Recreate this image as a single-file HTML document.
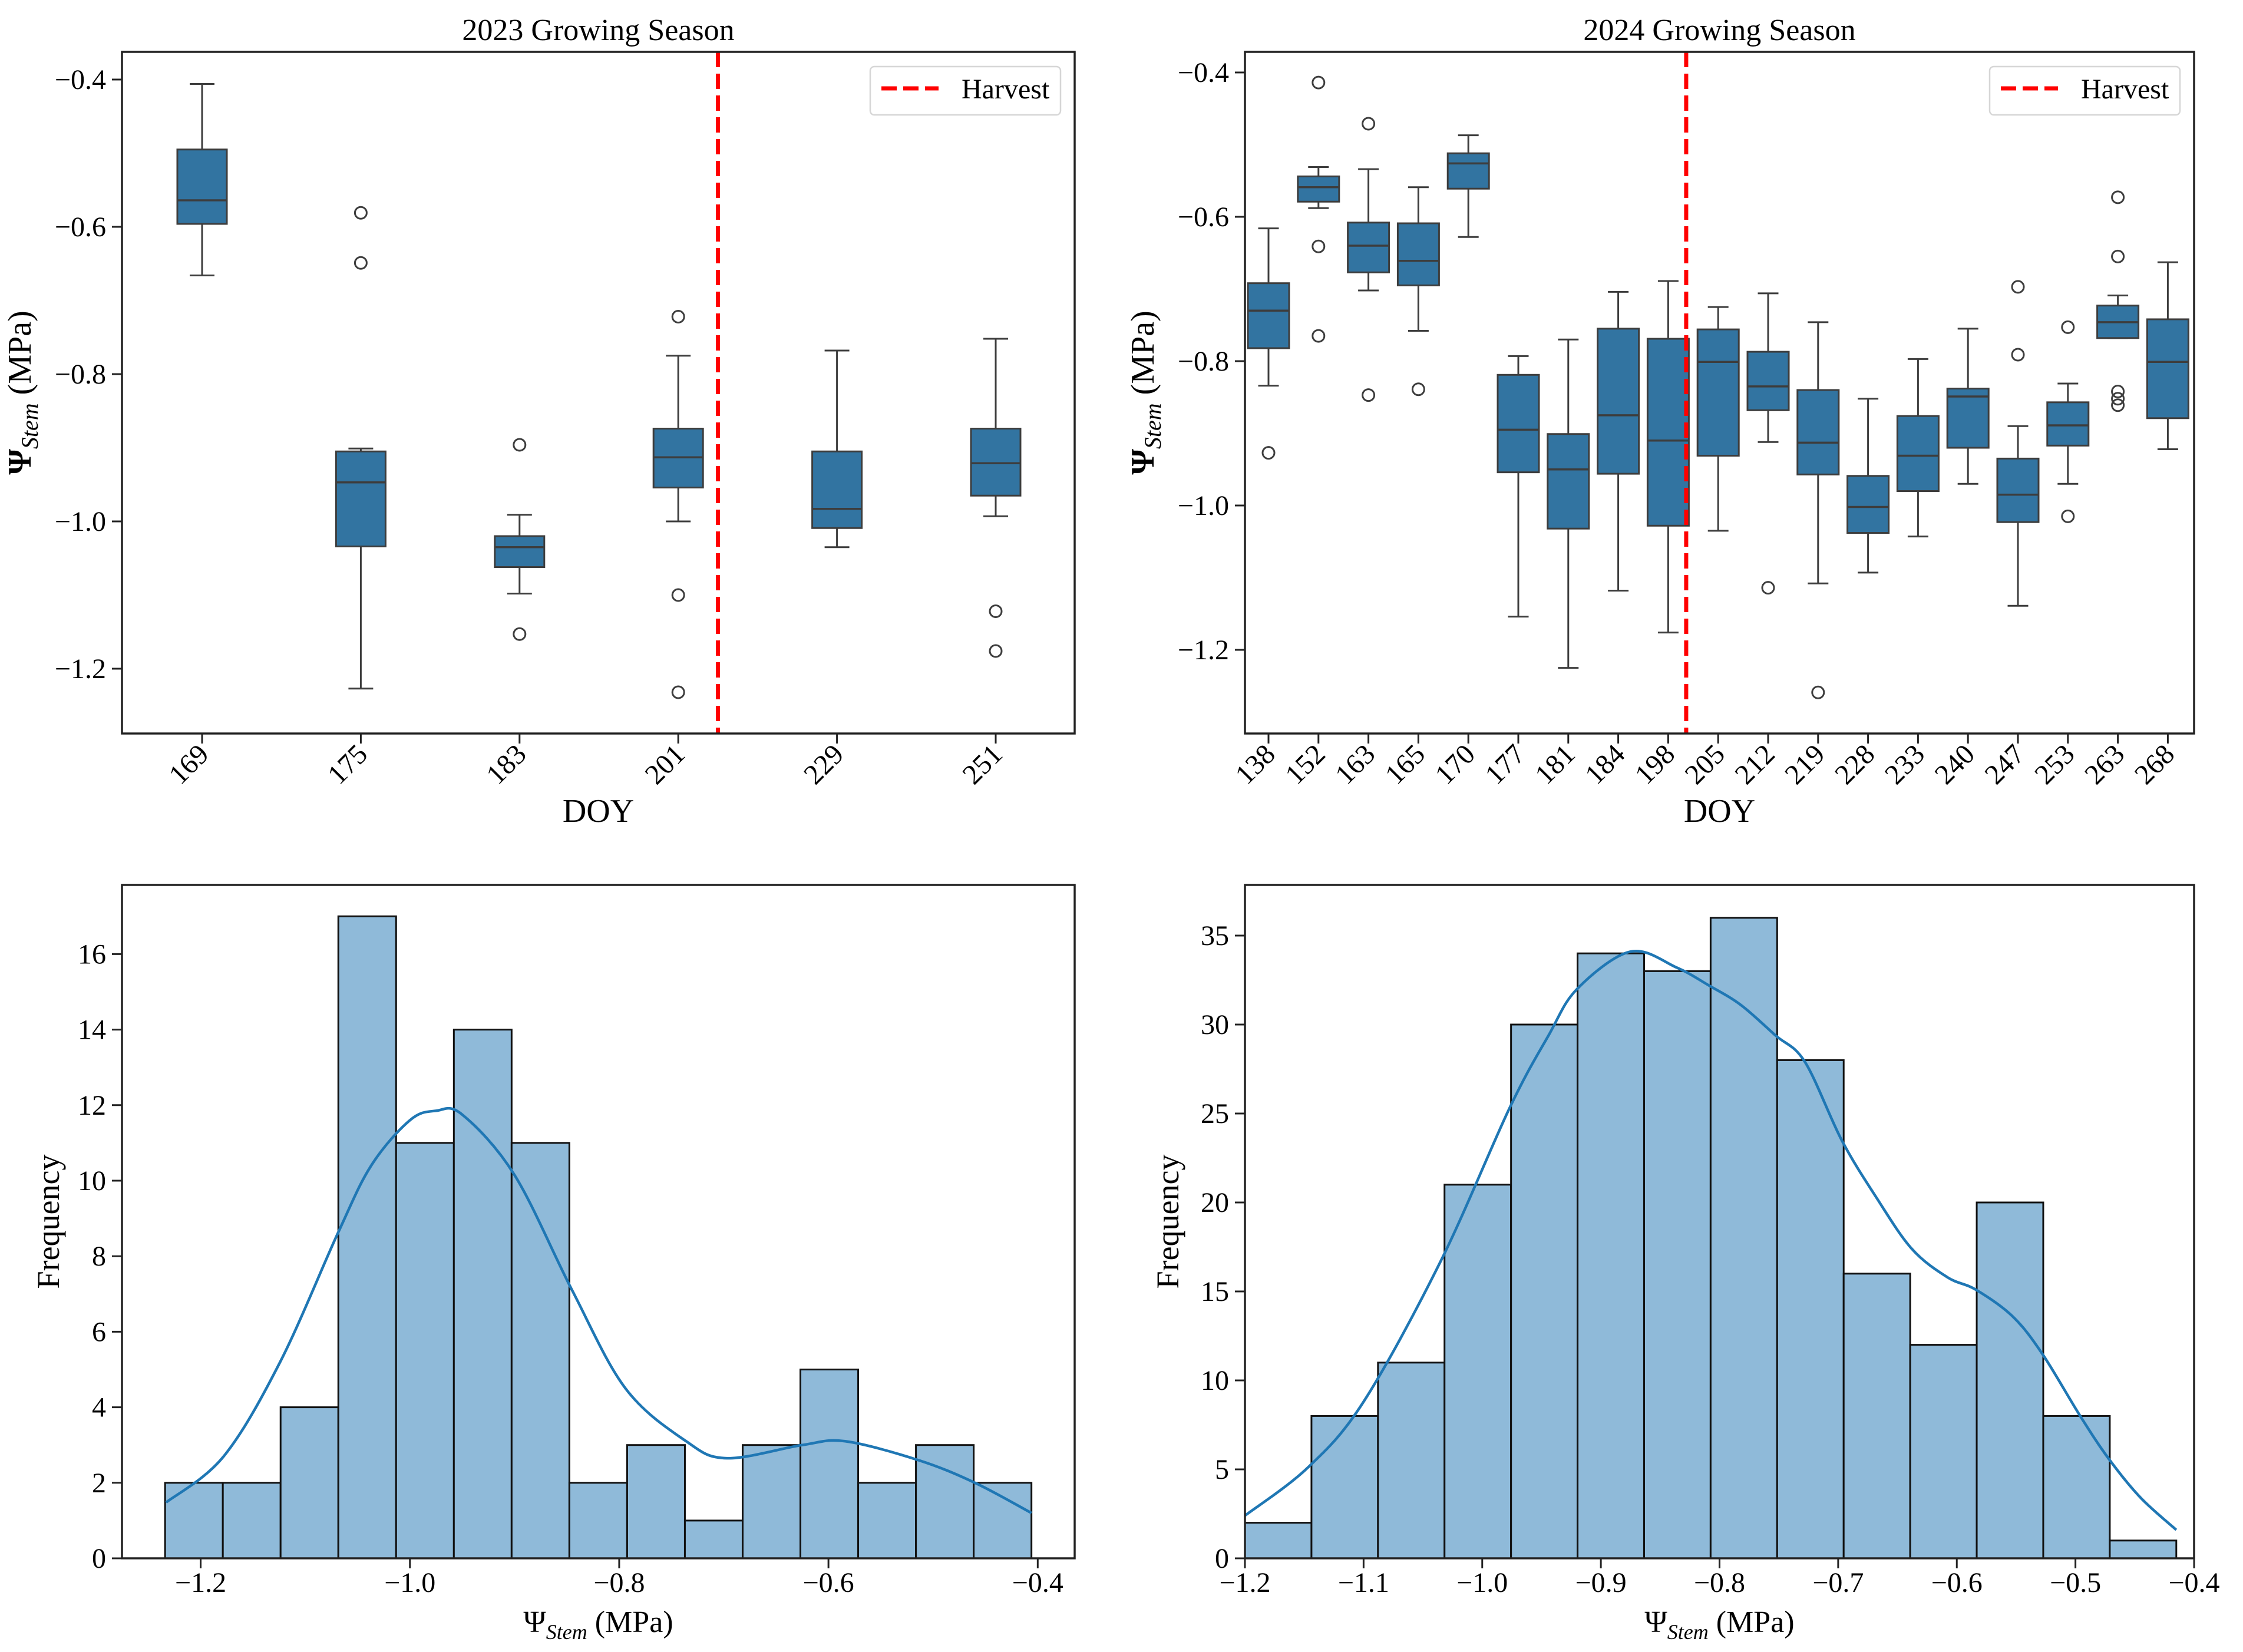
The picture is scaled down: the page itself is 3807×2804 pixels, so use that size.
<!DOCTYPE html>
<html><head><meta charset="utf-8"><style>
html,body{margin:0;padding:0;background:#fff}
svg{display:block;font-family:"Liberation Serif",serif}
svg text{font-family:"Liberation Serif",serif}
</style></head><body>
<svg id="fig" width="3807" height="2804" viewBox="0 0 3807 2804" xmlns="http://www.w3.org/2000/svg"></svg>
<script>
// ---------- DATA ----------
const doy2023 = ["169","175","183","201","229","251"];
const whiskLow2023 = [-0.666,-1.227,-1.098,-1.000,-1.035,-0.993];
const q1_2023 = [-0.596,-1.034,-1.062,-0.954,-1.009,-0.965];
const med2023 = [-0.564,-0.947,-1.035,-0.913,-0.983,-0.921];
const q3_2023 = [-0.495,-0.905,-1.020,-0.874,-0.905,-0.874];
const whiskHigh2023 = [-0.406,-0.901,-0.991,-0.775,-0.768,-0.752];
const outliers2023 = [[],[-0.581,-0.649],[-0.896,-1.153],[-0.722,-1.100,-1.232],[],[-1.122,-1.176]];
const harvestPos2023 = 3.25;
const yTicks2023 = [-0.4,-0.6,-0.8,-1.0,-1.2];

const doy2024 = ["138","152","163","165","170","177","181","184","198","205","212","219","228","233","240","247","253","263","268"];
const whiskLow2024 = [-0.834,-0.588,-0.702,-0.758,-0.628,-1.154,-1.225,-1.118,-1.176,-1.035,-0.912,-1.108,-1.093,-1.043,-0.970,-1.139,-0.970,-0.768,-0.922];
const q1_2024 = [-0.782,-0.579,-0.677,-0.695,-0.561,-0.954,-1.032,-0.956,-1.028,-0.931,-0.868,-0.957,-1.038,-0.980,-0.920,-1.023,-0.917,-0.768,-0.879];
const med2024 = [-0.730,-0.559,-0.640,-0.661,-0.526,-0.895,-0.950,-0.875,-0.910,-0.801,-0.835,-0.913,-1.002,-0.931,-0.849,-0.985,-0.889,-0.746,-0.801];
const q3_2024 = [-0.692,-0.544,-0.608,-0.609,-0.512,-0.819,-0.901,-0.755,-0.769,-0.756,-0.787,-0.840,-0.959,-0.876,-0.838,-0.935,-0.857,-0.723,-0.742];
const whiskHigh2024 = [-0.616,-0.531,-0.534,-0.559,-0.487,-0.793,-0.770,-0.704,-0.689,-0.725,-0.706,-0.746,-0.852,-0.797,-0.755,-0.890,-0.831,-0.709,-0.663];
const outliers2024 = [[-0.927],[-0.414,-0.641,-0.765],[-0.471,-0.847],[-0.839],[],[],[],[],[],[],[-1.114],[-1.259],[],[],[],[-0.697,-0.791],[-0.753,-1.015],[-0.573,-0.655,-0.842,-0.852,-0.861],[]];
const harvestPos2024 = 8.36;
const yTicks2024 = [-0.4,-0.6,-0.8,-1.0,-1.2];

const histStart2023 = -1.234, histEnd2023 = -0.406;
const counts2023 = [2,2,4,17,11,14,11,2,3,1,3,5,2,3,2];
const kdeX2023 = [-1.233,-1.178,-1.124,-1.069,-1.037,-1.0,-0.975,-0.95,-0.9,-0.845,-0.794,-0.736,-0.697,-0.625,-0.584,-0.514,-0.46,-0.406];
const kdeY2023 = [1.48,2.7,5.2,8.6,10.4,11.6,11.85,11.75,10.15,7.1,4.5,3.1,2.65,3.0,3.1,2.6,2.0,1.2];
const xTicksH2023 = [-1.2,-1.0,-0.8,-0.6,-0.4];
const yTicksH2023 = [0,2,4,6,8,10,12,14,16];

const histStart2024 = -1.2, histEnd2024 = -0.415;
const counts2024 = [2,8,11,21,30,34,33,36,28,16,12,20,8,1];
const kdeX2024 = [-1.2,-1.147,-1.1,-1.035,-0.977,-0.944,-0.92,-0.875,-0.836,-0.809,-0.782,-0.753,-0.728,-0.697,-0.668,-0.638,-0.608,-0.584,-0.553,-0.528,-0.496,-0.472,-0.445,-0.415];
const kdeY2024 = [2.4,5.1,8.8,16.7,25.3,29.4,32,34.1,33.2,32.2,31.1,29.4,27.9,23.5,20.3,17.4,15.8,15.1,13.6,11.5,8.0,5.6,3.4,1.6];
const xTicksH2024 = [-1.2,-1.1,-1.0,-0.9,-0.8,-0.7,-0.6,-0.5,-0.4];
const yTicksH2024 = [0,5,10,15,20,25,30,35];

// ---------- DRAWING ----------
const NS = "http://www.w3.org/2000/svg";
const svg = document.getElementById("fig");
const FONT = '"Liberation Serif", serif';
function mk(tag, attrs, parent, text){
  const e = document.createElementNS(NS, tag);
  for (const k in attrs) e.setAttribute(k, attrs[k]);
  if (tag === "text") e.setAttribute("font-family", FONT);
  if (text !== undefined) e.textContent = text;
  (parent || svg).appendChild(e);
  return e;
}
function fmt(v, d){ const s = Math.abs(v).toFixed(d); return (v < 0 ? "\u2212" : "") + s; }
const AX = "#222", BOXC = "#3274a1", LINEC = "#3d3d3d";

function ylabelPsi(g, x, y){
  const t = mk("text", {x:0, y:0, transform:`translate(${x},${y}) rotate(-90)`, "text-anchor":"middle", "font-size":"56"}, g);
  
  
  mk("tspan", {"font-weight":"bold"}, t, "\u03A8");
  mk("tspan", {"font-style":"italic", "font-size":"40", dy:"12"}, t, "Stem");
  mk("tspan", {dy:"-12"}, t, " (MPa)");
}
function xlabelPsi(g, x, y){
  const t = mk("text", {x:x, y:y, "text-anchor":"middle", "font-size":"52"}, g);
  
  
  mk("tspan", {}, t, "\u03A8");
  mk("tspan", {"font-style":"italic", "font-size":"36", dy:"12"}, t, "Stem");
  mk("tspan", {dy:"-12"}, t, " (MPa)");
}

function boxPanel(name, L, R, T, B, y0, perUnit, cx0, spacing, halfW, cats, wl, q1, md, q3, wh, outs, harvestPos, yTicks, title){
  const g = mk("g", {});
  
  
  const yv = v => y0 + (-0.4 - v) * perUnit;
  const xp = i => cx0 + i * spacing;
  const tt = mk("text", {x:(L+R)/2, y:68, "text-anchor":"middle", "font-size":"52"}, g, title);
  
  
  for (let i = 0; i < cats.length; i++){
    const bg = mk("g", {}, g);
    
    
    const x = xp(i);
    mk("line", {x1:x, x2:x, y1:yv(wh[i]), y2:yv(q3[i]), stroke:LINEC, "stroke-width":3}, bg);
    mk("line", {x1:x, x2:x, y1:yv(q1[i]), y2:yv(wl[i]), stroke:LINEC, "stroke-width":3}, bg);
    mk("line", {x1:x-halfW/2, x2:x+halfW/2, y1:yv(wh[i]), y2:yv(wh[i]), stroke:LINEC, "stroke-width":3}, bg);
    mk("line", {x1:x-halfW/2, x2:x+halfW/2, y1:yv(wl[i]), y2:yv(wl[i]), stroke:LINEC, "stroke-width":3}, bg);
    mk("rect", {x:x-halfW, y:yv(q3[i]), width:2*halfW, height:yv(q1[i])-yv(q3[i]), fill:BOXC, stroke:LINEC, "stroke-width":3}, bg);
    mk("line", {x1:x-halfW, x2:x+halfW, y1:yv(md[i]), y2:yv(md[i]), stroke:LINEC, "stroke-width":3.5}, bg);
    for (const o of outs[i]){
      const c = mk("circle", {cx:x, cy:yv(o), r:10, fill:"none", stroke:LINEC, "stroke-width":3}, bg);
      
      
    }
  }
  const hx = xp(harvestPos);
  const hl = mk("line", {x1:hx, x2:hx, y1:T, y2:B, stroke:"#ff0000", "stroke-width":7, "stroke-dasharray":"26 11"}, g);
  
  
  const sp = mk("rect", {x:L, y:T, width:R-L, height:B-T, fill:"none", stroke:AX, "stroke-width":3.5}, g);
  
  
  for (const t of yTicks){
    const y = yv(t);
    mk("line", {x1:L-17, x2:L, y1:y, y2:y, stroke:AX, "stroke-width":3}, g);
    const tl = mk("text", {x:L-27, y:y+16, "text-anchor":"end", "font-size":"48"}, g, fmt(t,1));
    
    
  }
  for (let i = 0; i < cats.length; i++){
    const x = xp(i);
    mk("line", {x1:x, x2:x, y1:B, y2:B+17, stroke:AX, "stroke-width":3}, g);
    const tl = mk("text", {x:0, y:0, transform:`translate(${x+14},${B+38}) rotate(-45)`, "text-anchor":"end", "font-size":"48"}, g, cats[i]);
    
    
  }
  const xl = mk("text", {x:(L+R)/2, y:1395, "text-anchor":"middle", "font-size":"56"}, g, "DOY");
  
  
  const lg = mk("g", {}, g);
  
  
  const lx = R - 347;
  mk("rect", {x:lx, y:113, width:323, height:82, rx:7, fill:"#fff", stroke:"#d6d6d6", "stroke-width":2.5}, lg);
  mk("line", {x1:lx+19, x2:lx+116, y1:150, y2:150, stroke:"#ff0000", "stroke-width":7, "stroke-dasharray":"26 11"}, lg);
  const le = mk("text", {x:lx+155, y:167, "font-size":"48"}, lg, "Harvest");
  
  
  ylabelPsi(g, L - 155, (T+B)/2);
}

function histPanel(name, L, R, T, B, xmin, xmax, perCount, start, end, counts, kx, ky, xt, yt, xdec, ylabX){
  const g = mk("g", {});
  
  
  const xv = v => L + (v - xmin) / (xmax - xmin) * (R - L);
  const yc = c => B - c * perCount;
  const w = (end - start) / counts.length;
  for (let i = 0; i < counts.length; i++){
    const x1 = xv(start + i*w), x2 = xv(start + (i+1)*w);
    const r = mk("rect", {x:x1, y:yc(counts[i]), width:x2-x1, height:B-yc(counts[i]), fill:"#8fbad9", stroke:"#111", "stroke-width":3}, g);
    
    
  }
  const pts = kx.map((v,i) => [xv(v), yc(ky[i])]);
  let d = `M${pts[0][0]},${pts[0][1]}`;
  for (let i = 0; i < pts.length-1; i++){
    const p0 = pts[Math.max(0,i-1)], p1 = pts[i], p2 = pts[i+1], p3 = pts[Math.min(pts.length-1,i+2)];
    const c1 = [p1[0]+(p2[0]-p0[0])/6, p1[1]+(p2[1]-p0[1])/6];
    const c2 = [p2[0]-(p3[0]-p1[0])/6, p2[1]-(p3[1]-p1[1])/6];
    d += ` C${c1[0]},${c1[1]} ${c2[0]},${c2[1]} ${p2[0]},${p2[1]}`;
  }
  const kl = mk("path", {d:d, fill:"none", stroke:"#1f77b4", "stroke-width":4.5}, g);
  
  
  const sp = mk("rect", {x:L, y:T, width:R-L, height:B-T, fill:"none", stroke:AX, "stroke-width":3.5}, g);
  
  
  for (const t of yt){
    const y = yc(t);
    mk("line", {x1:L-17, x2:L, y1:y, y2:y, stroke:AX, "stroke-width":3}, g);
    const tl = mk("text", {x:L-27, y:y+16, "text-anchor":"end", "font-size":"48"}, g, String(t));
    
    
  }
  for (const t of xt){
    const x = xv(t);
    mk("line", {x1:x, x2:x, y1:B, y2:B+17, stroke:AX, "stroke-width":3}, g);
    const tl = mk("text", {x:x, y:2702, "text-anchor":"middle", "font-size":"48"}, g, fmt(t,xdec));
    
    
  }
  const yl = mk("text", {x:0, y:0, transform:`translate(${ylabX},${(T+B)/2}) rotate(-90)`, "text-anchor":"middle", "font-size":"54"}, g, "Frequency");
  
  
  xlabelPsi(g, (L+R)/2, 2770);
}

boxPanel("boxplot-2023", 207, 1824, 88, 1245, 135, 1250, 343, 269.4, 42,
  doy2023, whiskLow2023, q1_2023, med2023, q3_2023, whiskHigh2023, outliers2023, harvestPos2023, yTicks2023, "2023 Growing Season");
boxPanel("boxplot-2024", 2113, 3724, 88, 1245, 123, 1225, 2153, 84.8, 35,
  doy2024, whiskLow2024, q1_2024, med2024, q3_2024, whiskHigh2024, outliers2024, harvestPos2024, yTicks2024, "2024 Growing Season");
histPanel("histogram-2023", 207, 1824, 1502, 2645, -1.2752, -0.3647, 64.1, histStart2023, histEnd2023,
  counts2023, kdeX2023, kdeY2023, xTicksH2023, yTicksH2023, 1, 100);
histPanel("histogram-2024", 2113, 3724, 1502, 2645, -1.2, -0.4, 30.2, histStart2024, histEnd2024,
  counts2024, kdeX2024, kdeY2024, xTicksH2024, yTicksH2024, 1, 2000);
</script>
</body></html>
